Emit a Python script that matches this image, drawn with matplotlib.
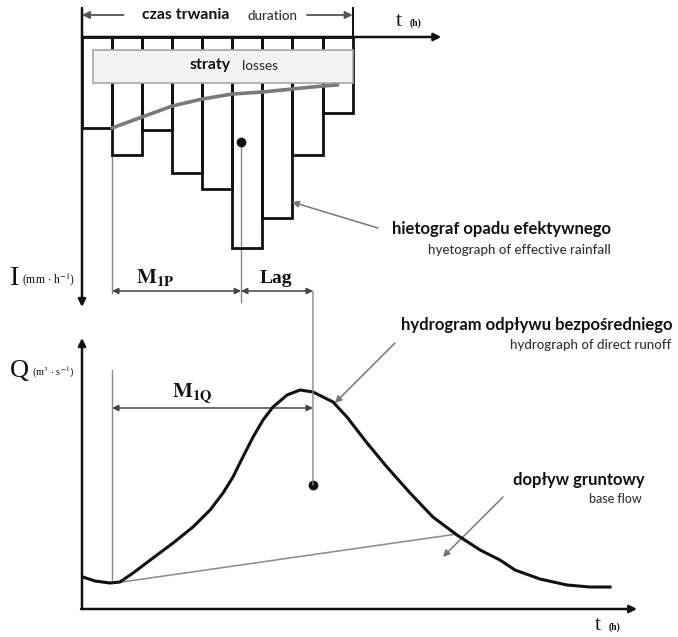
import numpy as np
import matplotlib
matplotlib.use('Agg')
import matplotlib.pyplot as plt
from matplotlib.patches import Rectangle, ConnectionPatch

plt.rcParams['mathtext.fontset'] = 'stix'

# effective rainfall hyetograph (hour blocks, depth below the time axis)
rain_t = [0, 1, 2, 3, 4, 5, 6, 7, 8]
rain_i = [9.1, 11.8, 9.3, 13.6, 15.2, 21.1, 18.1, 11.8, 7.6]
# losses curve
loss_t = [1, 2, 3, 4, 5, 6, 7, 8, 8.5]
loss_i = [9.1, 8.0, 6.9, 6.2, 5.7, 5.5, 5.2, 4.9, 4.8]
# direct runoff hydrograph
hydro_t = [0.03, 0.43, 0.93, 1.26, 1.70, 2.36, 3.03, 3.69, 4.26, 4.69, 5.02,
           5.35, 5.69, 6.02, 6.35, 6.82, 7.25, 7.68, 8.35, 8.81, 9.48, 10.14,
           10.91, 11.67, 12.47, 13.24, 13.90, 14.4, 15.23, 16.13, 16.89, 17.56]
hydro_q = [3.2, 2.8, 2.6, 2.7, 3.6, 5.1, 6.6, 8.2, 9.9, 11.6, 13.2,
           15.2, 17.2, 18.9, 20.2, 21.4, 21.9, 21.7, 20.7, 19.2, 16.6, 14.2,
           11.6, 9.2, 7.4, 5.9, 4.9, 3.9, 3.0, 2.4, 2.2, 2.2]
# base flow separation line
base_t = [1.1, 12.47]
base_q = [2.6, 7.5]
# centroids
rain_centroid = (5.29, 10.5)
flow_centroid = (7.68, 12.4)
rain_start = 1.0

BLACK = '#111111'
GRAY = '#8a8a8a'
TXT2 = '#333333'
SANS = 'Lato'
SERIF = 'Liberation Serif'

fig = plt.figure(figsize=(6.78, 6.37), dpi=100)
ax1 = fig.add_axes([0, 1 - 310 / 637, 1, 310 / 637])
ax2 = fig.add_axes([0, 0, 1, 327 / 637])
xlim = (-82 / 30.07, (678 - 82) / 30.07)
for ax in (ax1, ax2):
    ax.set_xlim(*xlim)
    ax.axis('off')
    ax.patch.set_alpha(0)
ax1.set_ylim(27.3, -3.7)
ax2.set_ylim(-2.8, 29.9)


def arrow(ax, tail, tip, color=BLACK, lw=1.6, style='-|>', ms=11):
    ax.annotate('', xy=tip, xytext=tail,
                arrowprops=dict(arrowstyle=style, color=color, lw=lw,
                                shrinkA=0, shrinkB=0, mutation_scale=ms))


# ---- hyetograph ----
ax1.bar(rain_t, rain_i, width=1, align='edge', bottom=0, fill=False,
        edgecolor=BLACK, linewidth=2, zorder=2)
ax1.add_patch(Rectangle((0.36, 1.3), 9.0 - 0.36, 4.57 - 1.3,
                        facecolor='#f2f2f2', edgecolor='#a8a8a8', lw=1.2, zorder=3))
ax1.plot(loss_t, loss_i, color='#7a7a7a', lw=2.6, zorder=4, solid_capstyle='round')
ax1.text(4.26, 2.85, 'straty', fontsize=11.4, fontweight='bold', family=SANS,
         color=BLACK, ha='center', va='center', zorder=5)
ax1.text(5.92, 2.95, 'losses', fontsize=9.8, family=SANS, fontweight='medium', color=TXT2,
         ha='center', va='center', zorder=5)

# axes of the top panel
arrow(ax1, (0, 0), (11.95, 0), lw=1.8)
arrow(ax1, (0, -2.9), (0, 27.0), lw=1.8)
ax1.plot([9, 9], [-2.9, 0], color=BLACK, lw=1.4)
ax1.text(10.55, -1.15, 't', fontsize=16, family=SERIF, color=BLACK, ha='center', va='baseline')
ax1.text(11.1, -1.15, '(h)', fontsize=7, family=SERIF, fontweight='bold', color=BLACK,
         ha='center', va='baseline')

# duration arrow
arrow(ax1, (1.38, -2.2), (0, -2.2), color='#555555', lw=1.3)
arrow(ax1, (7.48, -2.2), (9.0, -2.2), color='#555555', lw=1.3)
ax1.text(3.45, -2.2, 'czas trwania', fontsize=11.4, fontweight='bold', family=SANS,
         color=BLACK, ha='center', va='center')
ax1.text(6.32, -2.15, 'duration', fontsize=9.6, family=SANS, fontweight='medium', color=TXT2,
         ha='center', va='center')

# centroid of rainfall, M1P, Lag
ax1.plot([rain_start, rain_start], [rain_i[1], 25.6], color=GRAY, lw=1, zorder=1)
ax1.plot([rain_centroid[0]] * 2, [rain_centroid[1], 26.5], color=GRAY, lw=1, zorder=1)
ax1.plot(*rain_centroid, 'o', color=BLACK, ms=6, zorder=6)
arrow(ax1, (rain_start, 25.4), (rain_centroid[0], 25.4), color='#444444', lw=1.1, style='<|-|>', ms=9)
arrow(ax1, (rain_centroid[0], 25.4), (flow_centroid[0], 25.4), color='#444444', lw=1.1, style='<|-|>', ms=9)
ax1.text(2.43, 24.6, r'$\mathbf{M_{1P}}$', fontsize=15, color=BLACK, ha='center', va='baseline')
ax1.text(6.45, 24.6, 'Lag', fontsize=14, family=SERIF, fontweight='bold', color=BLACK,
         ha='center', va='baseline')
ax1.text(-2.24, 24.8, 'I', fontsize=20, family=SERIF, color=BLACK, ha='center', va='baseline')
ax1.text(-1.1, 24.6, r'(mm $\cdot$ h$^{-1}$)', fontsize=8.5, family=SERIF, color=BLACK,
         ha='center', va='baseline')

# hyetograph label
arrow(ax1, (9.84, 19.1), (6.98, 16.5), color='#777777', lw=1.1, ms=10)
ax1.text(17.59, 19.2, 'hietograf opadu efektywnego', fontsize=12, fontweight='bold',
         family=SANS, color=BLACK, ha='right', va='center')
ax1.text(17.59, 21.3, 'hyetograph of effective rainfall', fontsize=9.6, family=SANS,
         fontweight='medium', color=TXT2, ha='right', va='center')

# ---- hydrograph ----
ax2.plot(hydro_t, hydro_q, color=BLACK, lw=2.2, zorder=4, solid_joinstyle='round')
ax2.plot(base_t, base_q, color=GRAY, lw=1.1, zorder=3)
arrow(ax2, (-0.03, 0), (18.46, 0), lw=1.8)
arrow(ax2, (0, 0), (0, 27.1), lw=1.8)
ax2.text(17.15, -2.05, 't', fontsize=16, family=SERIF, color=BLACK, ha='center', va='baseline')
ax2.text(17.7, -2.05, '(h)', fontsize=7, family=SERIF, fontweight='bold', color=BLACK,
         ha='center', va='baseline')
ax2.text(-2.08, 23.2, 'Q', fontsize=19, family=SERIF, color=BLACK, ha='center', va='baseline')
ax2.text(-0.96, 23.3, r'(m$^{3}$ $\cdot$ s$^{-1}$)', fontsize=7.5, family=SERIF, color=BLACK,
         ha='center', va='baseline')

ax2.plot([rain_start, rain_start], [hydro_q[2], 23.9], color=GRAY, lw=1, zorder=1)
ax2.plot(*flow_centroid, 'o', color=BLACK, ms=6, zorder=6)
arrow(ax2, (rain_start, 20.1), (flow_centroid[0], 20.1), color='#444444', lw=1.1, style='<|-|>', ms=9)
ax2.text(3.66, 21.2, r'$\mathbf{M_{1Q}}$', fontsize=15, color=BLACK, ha='center', va='baseline')
con = ConnectionPatch(xyA=(flow_centroid[0], 25.4), coordsA=ax1.transData,
                      xyB=flow_centroid, coordsB=ax2.transData, color=GRAY, lw=1)
fig.add_artist(con)

arrow(ax2, (10.41, 26.6), (8.41, 20.6), color='#777777', lw=1.1, ms=10)
ax2.text(19.65, 28.4, 'hydrogram odpływu bezpośredniego', fontsize=12, fontweight='bold',
         family=SANS, color=BLACK, ha='right', va='center')
ax2.text(19.6, 26.4, 'hydrograph of direct runoff', fontsize=9.6, family=SANS,
         fontweight='medium', color=TXT2, ha='right', va='center')

arrow(ax2, (14.0, 11.2), (12.0, 5.2), color='#777777', lw=1.1, ms=10)
ax2.text(18.72, 12.9, 'dopływ gruntowy', fontsize=12, fontweight='bold',
         family=SANS, color=BLACK, ha='right', va='center')
ax2.text(18.62, 11.0, 'base flow', fontsize=9, family=SANS, fontweight='medium',
         color=TXT2, ha='right', va='center')

fig.savefig('out.png', dpi=100)
